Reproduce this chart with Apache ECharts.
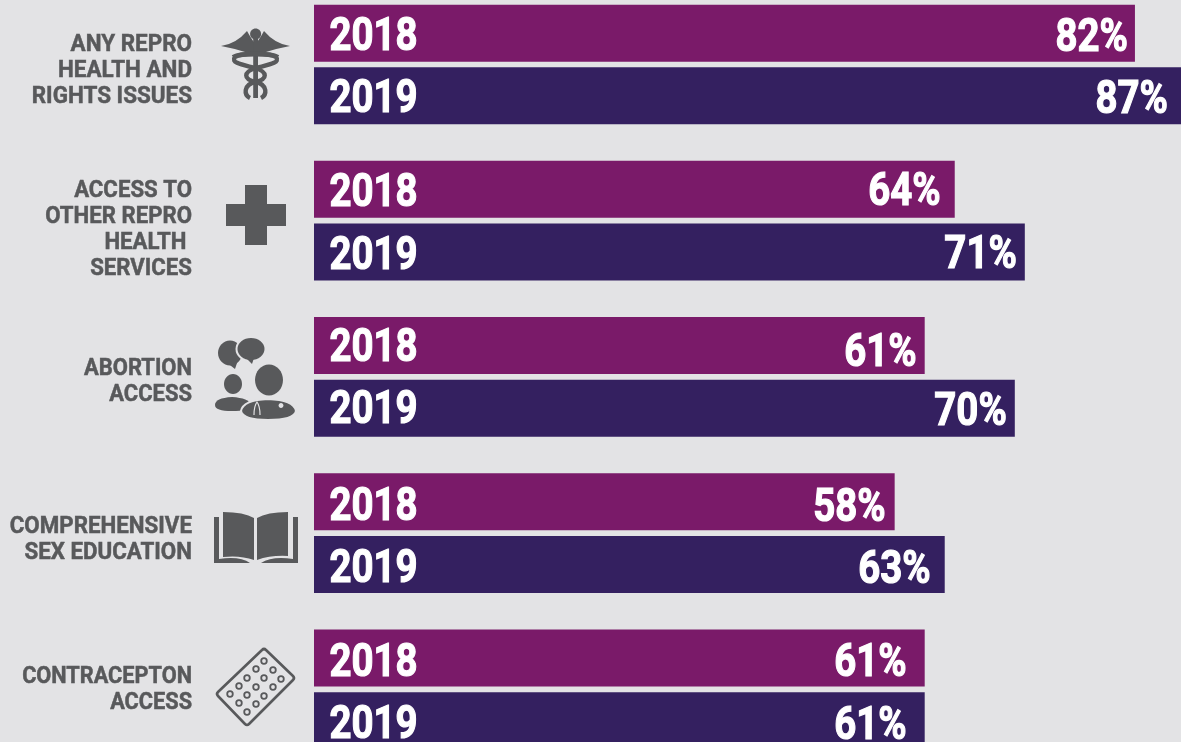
<!DOCTYPE html>
<html><head><meta charset="utf-8">
<style>html,body{margin:0;padding:0;background:#e3e3e5;overflow:hidden}#c{width:1181px;height:742px}</style>
<script src="https://cdn.jsdelivr.net/npm/echarts@6/dist/echarts.min.js"></script>
</head><body><div id="c"></div>
<script>
const categories = ['ANY REPRO\nHEALTH AND\nRIGHTS ISSUES','ACCESS TO\nOTHER REPRO\nHEALTH \nSERVICES','ABORTION\nACCESS','COMPREHENSIVE\nSEX EDUCATION','CONTRACEPTON\nACCESS'];
const years = ['2018','2019'];
const values2018 = [82,64,61,58,61];
const values2019 = [87,71,70,63,61];
// label placement tweaks, as in the reference
const inset2018 = [7,14,8,9,18];
const inset2019 = [17,8,8,14,18];
const dy2018 = [2,0,4,3,2];
const dy2019 = [1,0,1,3,2];
const yearDy2018 = [1,1,-1,2,2];
const yearDy2019 = [0,1,-1,2,1];
const catDy = [6.5,9.5,5.5,6.5,0.5];
const catSx = [0.935,0.925,0.915,0.93,0.905];

const FONT = 'Roboto,sans-serif';
const GREY = '#58595b', BG = '#e3e3e5';
const BIG = 'bold 46px '+FONT, SMALL = 'bold 24px '+FONT;
const SX_BIG = 0.835;
const BIG_DY = 4.5;

const icons = [
 // caduceus
 {p:'M221 46 Q236 44 247 31 Q252 40 254 42 L254 52 L245 52 Q232 48 221 46 Z'},
 {p:'M290 46 Q275 44 264 31 Q259 40 257 42 L257 52 L266 52 Q279 48 290 46 Z'},
 {e:[255.6,34,5.5,5.5]},
 {r:[253.2,38,4.8,60]},
 {s:'M278 57 C272 53 240 53 235 57 C230 63 244 65 255 68 C268 72 268 79 255 82 C243 85 244 95 250 98',w:4.4},
 {s:'M233 57 C239 53 271 53 276 57 C281 63 267 65 256 68 C243 72 243 79 256 82 C268 85 267 95 261 98',w:4.4},
 // cross
 {r:[245,185,22,60]},{r:[226,204,60,22]},
 // people
 {e:[230,353,12,12.5]},{p:'M226 362 L235 369 L238 360 Z'},
 {e:[251,349,14.5,12],st:1},{p:'M246 358 L252 364 L254 358 Z'},
 {e:[233,384,9,10]},{e:[269,380,14,15.5]},
 {p:'M215 405 Q215 398 232 397 Q249 398 251 405 Q249 411 232 411 Q215 411 215 405 Z'},
 {p:'M241 411 Q243 400 268 399 Q294 400 296 411 Q294 420 268 420 Q243 420 241 411 Z',st:1},
 {s:'M254 415 Q254 406 257 402 Q260 406 260 415',w:1.2,c:BG},
 {e:[281,405.5,2.4,2.4],c:BG},
 // book
 {p:'M223 512 Q244 512 254 518 L254 560 Q240 555 223 557 Z'},
 {p:'M288 512 Q267 512 257 518 L257 560 Q271 555 288 556 Z'},
 {p:'M214 517 L219 517 L219 559 Q240 556 250 563 L214 563 Z'},
 {p:'M298 517 L293 517 L293 559 Q272 556 261 563 L298 563 Z'},
 // pill pack
 {s:'M262 650 Q264 648 266 650 L293 676 Q295 678 293 680 L249 724 Q247 726 245 724 L218 696 Q216 694 218 692 Z',w:2.6},
];
const pills = [[264,661],[256,669],[247,678],[239,686],[230,694],[273,670],[264,678],[256,687],[247,695],[239,703],[281,679],[273,687],[264,696],[256,704],[247,712]];
pills.forEach(c=>icons.push({ring:c}));

function bboxShape(d){
  const r = echarts.graphic.makePath(d,{}).getBoundingRect();
  return {pathData:d,x:r.x,y:r.y,width:r.width,height:r.height,layout:'cover'};
}
function iconChildren(){
  return icons.map(i=>{
    if(i.r) return {type:'rect',shape:{x:i.r[0],y:i.r[1],width:i.r[2],height:i.r[3]},style:{fill:GREY}};
    if(i.e) return {type:'ellipse',shape:{cx:i.e[0],cy:i.e[1],rx:i.e[2],ry:i.e[3]},style:{fill:i.c||GREY,stroke:i.st?BG:null,lineWidth:i.st?2:0}};
    if(i.ring) return {type:'circle',shape:{cx:i.ring[0],cy:i.ring[1],r:2.8},style:{fill:'none',stroke:GREY,lineWidth:1.8}};
    if(i.p) return {type:'path',shape:bboxShape(i.p),style:{fill:GREY,stroke:i.st?BG:null,lineWidth:i.st?2:0}};
    return {type:'path',shape:bboxShape(i.s),style:{fill:'none',stroke:i.c||GREY,lineWidth:i.w}};
  });
}
function textEl(x,y,text,font,sx,align,color,lh,bold){
  return {type:'text',x,y,scaleX:sx,style:{x:0,y:0,text,fill:color,font,align,verticalAlign:'middle',lineHeight:lh,stroke:color,lineWidth:bold}};
}
function yearSeries(label,sign,dy){
  return {type:'custom',coordinateSystem:'cartesian2d',silent:true,z:5,
    data:categories.map((c,i)=>[0,i]),encode:{x:0,y:1},
    renderItem:(p,api)=>{
      const i=api.value(1), pt=api.coord([0,i]);
      const band=api.size([0,1])[1];
      return textEl(pt[0]+15.5,pt[1]+sign*band*0.2+BIG_DY+dy[i],label,BIG,SX_BIG,'left','#fff',undefined,1.2);
    }};
}
function pctSeries(vals,sign,inset,dy){
  return {type:'custom',coordinateSystem:'cartesian2d',silent:true,z:5,
    data:vals.map((v,i)=>[v,i]),encode:{x:0,y:1},
    renderItem:(p,api)=>{
      const i=api.value(1), pt=api.coord([api.value(0),i]);
      const band=api.size([0,1])[1];
      return textEl(pt[0]-inset[i],pt[1]+sign*band*0.2+BIG_DY+dy[i],api.value(0)+'%',BIG,SX_BIG,'right','#fff',undefined,1.2);
    }};
}
function barSeries(name,vals,color){
  return {name,type:'bar',barWidth:57,barGap:'10%',itemStyle:{color},data:vals};
}
const chart = echarts.init(document.getElementById('c'),null,{renderer:'canvas'});
chart.setOption({
  animation:false,backgroundColor:BG,
  grid:{left:314,top:-13.6,width:871,height:781,containLabel:false,outerBoundsMode:'none'},
  xAxis:{type:'value',min:0,max:87,show:false},
  yAxis:{type:'category',inverse:true,data:categories,show:false},
  series:[
    barSeries(years[0],values2018,'#7a1a69'),
    barSeries(years[1],values2019,'#342060'),
    yearSeries(years[0],-1,yearDy2018),
    yearSeries(years[1],1,yearDy2019),
    pctSeries(values2018,-1,inset2018,dy2018),
    pctSeries(values2019,1,inset2019,dy2019),
    {type:'custom',coordinateSystem:'cartesian2d',silent:true,z:5,
      data:categories.map((c,i)=>[0,i]),encode:{x:0,y:1},
      renderItem:(p,api)=>{
        const i=api.value(1), pt=api.coord([0,i]);
        return textEl(pt[0]-122,pt[1]+catDy[i],categories[i],SMALL,catSx[i],'right',GREY,26,0.5);
      }},
    {type:'custom',coordinateSystem:'none',silent:true,data:[0],renderItem:()=>({type:'group',children:iconChildren()})}
  ]
});
</script></body></html>
